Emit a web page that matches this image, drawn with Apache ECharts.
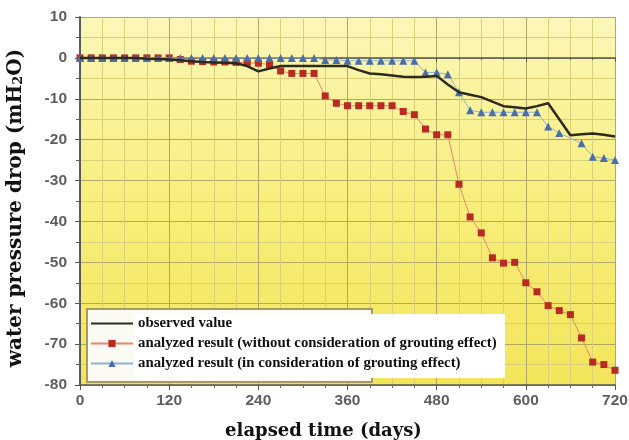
<!DOCTYPE html>
<html>
<head>
<meta charset="utf-8">
<script src="https://cdn.jsdelivr.net/npm/echarts@6/dist/echarts.min.js"></script>
<style>
html,body{margin:0;padding:0;background:#fff;}
#chart{width:629px;height:440px;}
</style>
</head>
<body>
<div id="chart"></div>
<script>
const days = [0,15,30,45,60,75,90,105,120,135,150,165,180,195,210,225,240,255,270,285,300,315,330,345,360,375,390,405,420,435,450,465,480,495,510,525,540,555,570,585,600,615,630,645,660,675,690,705,720];
const observed = [0,0,0,0,0,0,-0.2,-0.3,-0.4,-0.6,-0.8,-1.0,-1.1,-1.2,-1.3,-2.0,-3.3,-2.6,-2.0,-2.0,-2.0,-2.0,-2.0,-2.0,-2.0,-3.0,-3.8,-4.0,-4.3,-4.6,-4.7,-4.6,-4.4,-6.5,-8.4,-9.0,-9.6,-10.7,-11.8,-12.1,-12.4,-11.8,-11.1,-15.0,-18.9,-18.7,-18.5,-18.8,-19.2];
const withoutGrouting = [0,0,0,0,0,0,0,0,0,-0.4,-0.8,-0.9,-1.0,-1.0,-1.1,-1.2,-1.3,-1.6,-3.2,-3.8,-3.8,-3.8,-9.3,-11.1,-11.7,-11.7,-11.7,-11.7,-11.7,-13.1,-13.9,-17.4,-18.8,-18.8,-30.9,-38.9,-42.8,-48.9,-50.2,-50.0,-55.0,-57.2,-60.6,-61.8,-62.8,-68.5,-74.4,-75.0,-76.4];
const withGrouting = [0,0,0,0,0,0,0,0,0,0,0,0,0,0,0,0,0,0,0,0,0,0,-0.5,-0.5,-0.7,-0.7,-0.7,-0.7,-0.7,-0.7,-0.7,-3.6,-3.6,-4.0,-8.4,-12.8,-13.3,-13.3,-13.3,-13.3,-13.3,-13.3,-16.8,-18.4,null,-20.9,-24.2,-24.5,-25.0];
const seriesNames = ['observed value','analyzed result (without consideration of grouting effect)','analyzed result (in consideration of grouting effect)'];
const xTitle = 'elapsed time (days)';

const pairs = arr => days.map((d,i) => [d, arr[i]]);
const chart = echarts.init(document.getElementById('chart'), null, {renderer:'canvas'});
const labelStyle = {color:'#5e5e5e', fontWeight:'bold', fontSize:15.5, fontFamily:'Liberation Sans, Arial, sans-serif'};
const serif = 'Liberation Serif, Times New Roman, serif';
const titleSerif = 'DejaVu Serif, serif';
const majorGrid = '#b0a864';
const minorGrid = '#dad07a';

chart.setOption({
  animation:false,
  backgroundColor:'#ffffff',
  grid:{left:80,right:14,top:17,bottom:55,containLabel:false,outerBoundsMode:'none',show:true,borderWidth:0,
    backgroundColor:{type:'linear',x:0,y:0,x2:0,y2:1,colorStops:[{offset:0,color:'#fbf7b8'},{offset:0.5,color:'#f8ee7c'},{offset:1,color:'#f3e55a'}]}},
  xAxis:[{
    type:'value',min:0,max:720,interval:120,
    name:xTitle,nameLocation:'middle',nameGap:37,
    nameTextStyle:{fontFamily:titleSerif,fontWeight:'bold',fontSize:18,color:'#111',padding:[0,48,0,0]},
    axisLine:{show:true,onZero:false,lineStyle:{color:'#555',width:1.5}},
    axisTick:{show:true,inside:false,length:5,lineStyle:{color:'#555'}},
    minorTick:{show:true,splitNumber:4,length:3,lineStyle:{color:'#666'}},
    axisLabel:{...labelStyle,margin:8},
    splitLine:{show:true,lineStyle:{color:majorGrid,width:1}},
    minorSplitLine:{show:true,lineStyle:{color:minorGrid,width:1}}
  },{
    type:'value',min:0,max:720,interval:120,position:'top',
    axisLine:{show:true,lineStyle:{color:'#555',width:1.5}},
    axisTick:{show:true,inside:true,length:4,lineStyle:{color:'#555'}},
    minorTick:{show:true,splitNumber:4,length:2},
    axisLabel:{show:false},splitLine:{show:false}
  }],
  yAxis:[{
    type:'value',min:-80,max:10,interval:10,
    name:'{a|water pressure drop (mH}{s|2}{a|O)}',nameLocation:'middle',nameGap:54,nameRotate:90,
    nameTextStyle:{padding:[0,14,0,0],rich:{a:{fontFamily:titleSerif,fontWeight:'bold',fontSize:20,color:'#111'},s:{fontFamily:titleSerif,fontWeight:'bold',fontSize:13,color:'#111',padding:[6,0,0,0]}}},
    axisLine:{show:true,onZero:false,lineStyle:{color:'#555',width:1.5}},
    axisTick:{show:true,inside:false,length:5,lineStyle:{color:'#555'}},
    minorTick:{show:true,splitNumber:2,length:4,lineStyle:{color:'#666'}},
    axisLabel:{...labelStyle,margin:13},
    splitLine:{show:true,lineStyle:{color:majorGrid,width:1}},
    minorSplitLine:{show:true,lineStyle:{color:minorGrid,width:1}}
  },{
    type:'value',min:-80,max:10,interval:10,position:'right',
    axisLine:{show:true,lineStyle:{color:'#555',width:1.5}},
    axisTick:{show:true,inside:true,length:4,lineStyle:{color:'#555'}},
    minorTick:{show:true,splitNumber:2,length:2},
    axisLabel:{show:false},splitLine:{show:false}
  }],
  legend:{
    orient:'vertical',left:90,top:316,itemWidth:42,itemHeight:9,itemGap:5,z:20,padding:0,
    data:[{name:seriesNames[0],itemStyle:{opacity:0}},seriesNames[1],seriesNames[2]],
    textStyle:{fontFamily:serif,fontWeight:'bold',fontSize:14.8,color:'#111'}
  },
  graphic:{elements:[
    {type:'rect',z:15,shape:{x:87,y:309,width:285,height:73},style:{fill:'#fbfbf4',stroke:'#a89a58',lineWidth:2}},
    {type:'rect',z:16,shape:{x:134,y:314,width:371,height:64},style:{fill:'#ffffff'}}
  ]},
  series:[
    {name:seriesNames[1],type:'line',data:pairs(withoutGrouting),symbol:'rect',symbolSize:7,z:3,
      lineStyle:{color:'#e8886a',width:1},itemStyle:{color:'#b82a22'}},
    {name:seriesNames[2],type:'line',data:pairs(withGrouting),symbol:'triangle',symbolSize:8,connectNulls:true,z:4,
      lineStyle:{color:'#8fb0d8',width:1},itemStyle:{color:'#4a6fa8'}},
    {name:seriesNames[0],type:'line',data:pairs(observed),symbol:'none',z:5,
      lineStyle:{color:'#2b2a1e',width:2.5},itemStyle:{color:'#2b2a1e'}}
  ]
});
</script>
</body>
</html>
